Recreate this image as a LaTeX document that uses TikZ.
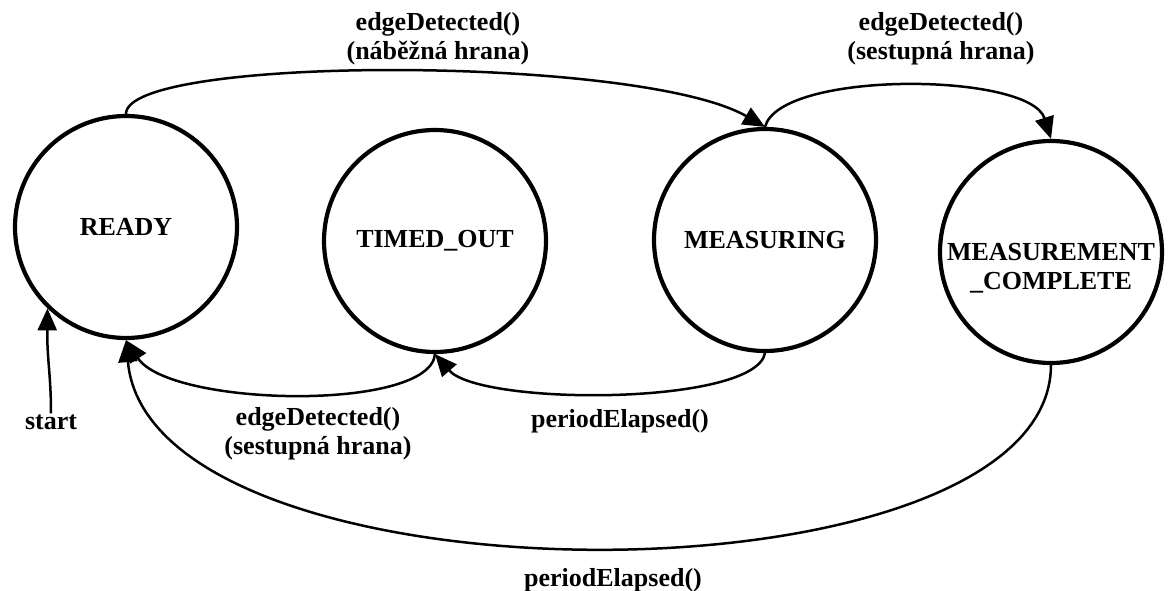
\documentclass[tikz,border=0pt]{standalone}
\usepackage{fontspec}
\setmainfont{Liberation Serif}
\usetikzlibrary{arrows.meta}
\begin{document}
\begin{tikzpicture}[x=1pt,y=-1pt,
  every node/.style={font=\fontsize{26}{29}\selectfont\bfseries},
  state/.style={circle, draw, line width=4.2pt, minimum size=222pt, inner sep=0pt},
  lbl/.style={align=center, inner sep=1pt},
  trans/.style={line width=2.5pt, -{Triangle[length=22pt,width=19pt]}}
]
\useasboundingbox (0,0) rectangle (1168,591);
\node[state] (ready) at (126,227) {READY};
\node[state] (timed) at (435,241) {TIMED\_OUT};
\node[state] (meas) at (765,240) {MEASURING};
\node[state, label={[name=mctext, align=center, yshift=-16pt]center:MEASUREMENT\\\_COMPLETE}] (mc) at (1051,252) {};

\node[lbl] (l1) at (438,39) {edgeDetected()\\(náběžná hrana)};
\node[lbl] (l2) at (941,39) {edgeDetected()\\(sestupná hrana)};
\node[lbl] (l3) at (318,434) {edgeDetected()\\(sestupná hrana)};
\node[lbl] (l4) at (620,421) {periodElapsed()};
\node[lbl] (l5) at (613,580) {periodElapsed()};
\node[lbl] (start) at (51,422) {start};

\draw[trans] (ready.north) .. controls (126,55) and (640,55) .. (meas.north);
\draw[trans] (meas.north) .. controls (780,70) and (1030,72) .. (mc.north);
\draw[trans] (meas.south) .. controls (755,406) and (480,406) .. (timed.south);
\draw[trans] (timed.south) .. controls (430,412) and (170,407) .. (ready.south);
\draw[trans] (mc.south) .. controls (1050,612) and (150,612) .. (ready.south);
\draw[trans] (start.north) .. controls (51,375) and (47,360) .. (ready.226);
\end{tikzpicture}
\end{document}
